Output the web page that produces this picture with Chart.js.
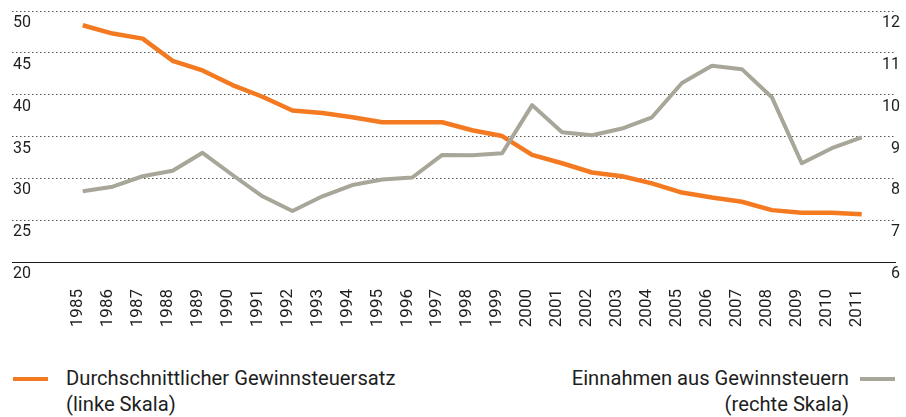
<!DOCTYPE html>
<html><head><meta charset="utf-8">
<script src="https://cdn.jsdelivr.net/npm/chart.js@4"></script>
<style>
html,body{margin:0;padding:0;background:#fff;}
#wrap{position:relative;width:906px;height:417px;font-family:Roboto,"DejaVu Sans",sans-serif;color:#1e1e1e;overflow:hidden;}
#c{position:absolute;left:0;top:0;}
.leg{position:absolute;font-size:20.2px;line-height:26px;white-space:nowrap;}
.sw{position:absolute;height:4px;}
</style></head><body>
<div id="wrap">
<canvas id="c" width="906" height="340"></canvas>
<div class="sw" id="sw1" style="left:13px;top:377px;width:35px;"></div>
<div class="leg" id="l1" style="left:66px;top:365px;"></div>
<div class="sw" id="sw2" style="left:860px;top:377px;width:35px;"></div>
<div class="leg" id="l2" style="right:57px;top:365px;text-align:right;"></div>
</div>
<script>
const years = [1985,1986,1987,1988,1989,1990,1991,1992,1993,1994,1995,1996,1997,1998,1999,2000,2001,2002,2003,2004,2005,2006,2007,2008,2009,2010,2011];
const taxRate = [48.3,47.3,46.7,44.05,42.9,41.15,39.75,38.1,37.8,37.3,36.7,36.7,36.7,35.75,35.05,32.8,31.8,30.7,30.25,29.4,28.3,27.7,27.2,26.2,25.9,25.9,25.7];
const revenue = [7.69,7.80,8.05,8.18,8.61,8.08,7.57,7.22,7.57,7.84,7.97,8.02,8.56,8.55,8.60,9.75,9.10,9.03,9.19,9.46,10.28,10.69,10.61,9.94,8.36,8.72,8.98];
const seriesNames = ['Durchschnittlicher Gewinnsteuersatz','Einnahmen aus Gewinnsteuern'];
const scaleNotes = ['(linke Skala)','(rechte Skala)'];
const leftTicks = [20,25,30,35,40,45,50];
const rightTicks = [6,7,8,9,10,11,12];

const ORANGE = '#f47a21', GRAY = '#a8a698';
const FONT = 'Roboto, "DejaVu Sans", sans-serif';

document.getElementById('sw1').style.background = ORANGE;
document.getElementById('sw2').style.background = GRAY;
document.getElementById('l1').innerHTML = seriesNames[0] + '<br>' + scaleNotes[0];
document.getElementById('l2').innerHTML = seriesNames[1] + '<br>' + scaleNotes[1];

const pts = (arr) => years.map((y,i)=>({x:y,y:arr[i]}));
const zeroPad = s => { s.paddingTop = 0; s.paddingBottom = 0; s.paddingLeft = 0; s.paddingRight = 0; };

new Chart(document.getElementById('c'), {
  type: 'line',
  data: {
    datasets: [
      {label: seriesNames[0], data: pts(taxRate), yAxisID: 'y', borderColor: ORANGE, borderWidth: 4.5, pointRadius: 0, tension: 0, borderJoinStyle: 'round', order: 1},
      {label: seriesNames[1], data: pts(revenue), yAxisID: 'y2', borderColor: GRAY, borderWidth: 4, pointRadius: 0, tension: 0, borderJoinStyle: 'round', order: 0}
    ]
  },
  options: {
    responsive: false,
    devicePixelRatio: 1,
    animation: false,
    events: [],
    layout: {padding: {top: 11, left: 12, right: 10, bottom: 0}},
    plugins: {legend: {display: false}, tooltip: {enabled: false}},
    scales: {
      x: {
        type: 'linear', min: 1982.64, max: 2012.145,
        afterBuildTicks: s => { s.ticks = years.map(v => ({value: v})); },
        afterFit: s => { s.height = 78; zeroPad(s); },
        grid: {display: false, drawTicks: false, tickLength: 0},
        border: {display: false},
        ticks: {
          autoSkip: false, minRotation: 90, maxRotation: 90, padding: 27, labelOffset: -5,
          color: '#1e1e1e', font: {family: FONT, size: 17},
          callback: v => String(v)
        }
      },
      y: {
        position: 'left', min: 20, max: 50,
        afterBuildTicks: s => { s.ticks = leftTicks.map(v => ({value: v})); },
        afterFit: s => { s.width = 0; zeroPad(s); },
        grid: {
          drawTicks: false, tickLength: 0, lineWidth: 1,
          color: ctx => ctx.tick && ctx.tick.value === 20 ? '#1a1a1a' : '#555'
        },
        border: {display: false, dash: ctx => ctx.tick && ctx.tick.value === 20 ? [] : [1.5, 2.5]},
        ticks: {mirror: true, padding: 1, labelOffset: 12, color: '#1e1e1e', font: {family: FONT, size: 16}}
      },
      y2: {
        position: 'right', min: 6, max: 12,
        afterBuildTicks: s => { s.ticks = rightTicks.map(v => ({value: v})); },
        afterFit: s => { s.width = 0; zeroPad(s); },
        grid: {display: false, drawTicks: false, tickLength: 0},
        border: {display: false},
        ticks: {mirror: true, padding: 4, labelOffset: 12, color: '#1e1e1e', font: {family: FONT, size: 16}}
      }
    }
  }
});
</script>
</body></html>
